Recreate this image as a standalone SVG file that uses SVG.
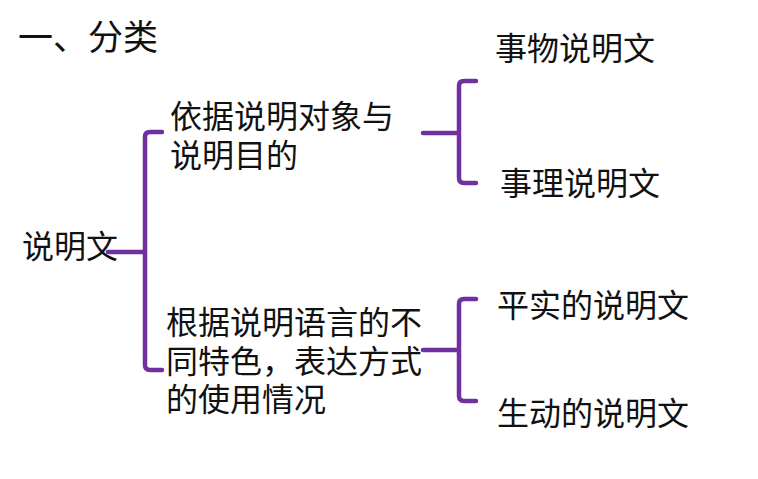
<svg xmlns="http://www.w3.org/2000/svg" width="758" height="479" viewBox="0 0 758 479">
<style>
text{font-family:"Noto Sans CJK SC","Noto Sans",sans-serif;font-size:32px;fill:#111}
.title{font-size:35px}
.br{fill:none;stroke:#7030A0;stroke-width:4.5;stroke-linecap:round;stroke-linejoin:round}
</style>
<rect width="758" height="479" fill="#fff"/>
<g id="title"><text class="title" x="18" y="50">一、分类</text></g>
<g id="connectors">
<path class="br" d="M162,132 L150,132 Q145,132 145,137 L145,365 Q145,370 150,370 L162,370 M108,252 L145,252"/>
<path class="br" d="M476,81 L464,81 Q459,81 459,86 L459,178 Q459,183 464,183 L476,183 M423,133 L459,133"/>
<path class="br" d="M476,299 L464,299 Q459,299 459,304 L459,396 Q459,401 464,401 L476,401 M423,350 L459,350"/>
</g>
<g id="root"><text x="22" y="258">说明文</text></g>
<g id="n1"><text x="170" y="128">依据说明对象与</text><text x="170" y="167">说明目的</text></g>
<g id="n2"><text x="166" y="334">根据说明语言的不</text><text x="166" y="373">同特色，表达方式</text><text x="166" y="411">的使用情况</text></g>
<g id="l1"><text x="495" y="60">事物说明文</text></g>
<g id="l2"><text x="500" y="195">事理说明文</text></g>
<g id="l3"><text x="497" y="317">平实的说明文</text></g>
<g id="l4"><text x="497" y="425">生动的说明文</text></g>
</svg>
